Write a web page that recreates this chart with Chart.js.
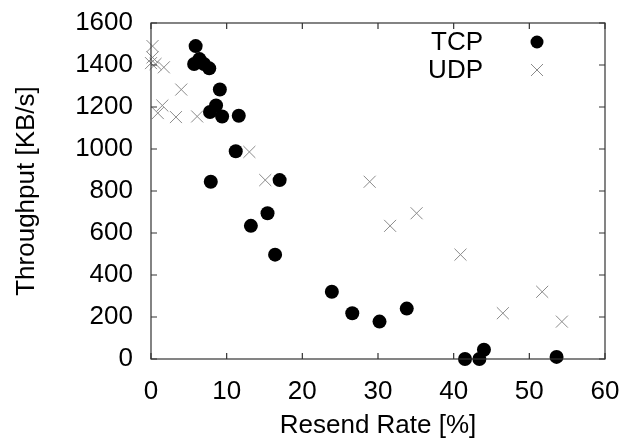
<!DOCTYPE html>
<html>
<head>
<meta charset="UTF-8">
<title>index.html</title>
<script src="https://cdn.jsdelivr.net/npm/chart.js"></script>
<style>
  html, body { margin: 0; padding: 0; background: #fff; }
  #wrap { width: 624px; height: 441px; }
</style>
</head>
<body>
<div id="wrap"><canvas id="scatterChart"></canvas></div>

<script>
    // resend rate [%] / throughput [KB/s]
    const tcpRate = [5.9, 5.7, 6.4, 7.0, 7.7, 9.1, 8.6, 7.8, 9.4, 11.6, 11.2, 7.9, 17.0, 15.4, 13.2, 16.4, 23.9, 26.6, 30.2, 33.8, 41.5, 43.4, 44.0, 53.6];
    const tcpThroughput = [1490, 1405, 1428, 1405, 1384, 1283, 1207, 1176, 1155, 1158, 989, 844, 852, 694, 634, 497, 320, 218, 178, 240, 0, 0, 44, 10];

    const udpRate = [0.2, 0.2, 0.0, 0.6, 1.7, 4.0, 1.5, 0.9, 3.3, 6.1, 13.0, 15.1, 28.9, 31.6, 35.1, 40.9, 46.5, 51.7, 54.3];
    const udpThroughput = [1490, 1436, 1409, 1405, 1389, 1283, 1207, 1171, 1152, 1155, 986, 852, 844, 634, 694, 497, 218, 320, 178];

    const xTicks = [0, 10, 20, 30, 40, 50, 60];
    const yTicks = [0, 200, 400, 600, 800, 1000, 1200, 1400, 1600];

    const FONT = '"Liberation Sans", Arial, sans-serif';
    const CROSS_COLOR = '#8a8a8a';

    function toPoints(xs, ys) {
        return xs.map(function (x, i) { return { x: x, y: ys[i] }; });
    }

    function noPadding(scale) {
        scale.paddingLeft = 0;
        scale.paddingRight = 0;
        scale.paddingTop = 0;
        scale.paddingBottom = 0;
    }

    // gnuplot-style frame with inward ticks on all four sides
    const framePlugin = {
        id: 'frame',
        afterDatasetsDraw: function (chart) {
            const ctx = chart.ctx;
            const a = chart.chartArea;
            const xs = chart.scales.x;
            const ys = chart.scales.y;
            const len = 6;
            ctx.save();
            ctx.strokeStyle = '#333';
            ctx.lineWidth = 1.2;
            ctx.strokeRect(a.left, a.top, a.right - a.left, a.bottom - a.top);
            ctx.beginPath();
            xTicks.forEach(function (v) {
                const px = xs.getPixelForValue(v);
                ctx.moveTo(px, a.bottom); ctx.lineTo(px, a.bottom - len);
                ctx.moveTo(px, a.top); ctx.lineTo(px, a.top + len);
            });
            yTicks.forEach(function (v) {
                const py = ys.getPixelForValue(v);
                ctx.moveTo(a.left, py); ctx.lineTo(a.left + len, py);
                ctx.moveTo(a.right, py); ctx.lineTo(a.right - len, py);
            });
            ctx.stroke();
            ctx.restore();
        }
    };

    // legend: label on the left, marker on the right
    const keyPlugin = {
        id: 'key',
        afterDraw: function (chart) {
            const ctx = chart.ctx;
            const textX = 483, markX = 537;
            const rows = [{ label: 'TCP', y: 42 }, { label: 'UDP', y: 70 }];
            ctx.save();
            ctx.font = '26px ' + FONT;
            ctx.fillStyle = '#000';
            ctx.textAlign = 'right';
            ctx.textBaseline = 'middle';
            rows.forEach(function (r) { ctx.fillText(r.label, textX, r.y + 1); });

            ctx.beginPath();
            ctx.arc(markX, rows[0].y, 6.5, 0, Math.PI * 2);
            ctx.fill();

            const d = 6;
            ctx.strokeStyle = CROSS_COLOR;
            ctx.lineWidth = 1;
            ctx.beginPath();
            ctx.moveTo(markX - d, rows[1].y - d); ctx.lineTo(markX + d, rows[1].y + d);
            ctx.moveTo(markX - d, rows[1].y + d); ctx.lineTo(markX + d, rows[1].y - d);
            ctx.stroke();
            ctx.restore();
        }
    };

    const config = {
        type: 'scatter',
        data: {
            datasets: [
                {
                    label: 'TCP',
                    data: toPoints(tcpRate, tcpThroughput),
                    pointStyle: 'circle',
                    pointRadius: 7,
                    pointBorderWidth: 0,
                    backgroundColor: '#000',
                    borderColor: '#000',
                    clip: false
                },
                {
                    label: 'UDP',
                    data: toPoints(udpRate, udpThroughput),
                    pointStyle: 'crossRot',
                    pointRadius: 8.5,
                    pointBorderWidth: 1,
                    backgroundColor: CROSS_COLOR,
                    borderColor: CROSS_COLOR,
                    clip: false
                }
            ]
        },
        options: {
            responsive: true,
            maintainAspectRatio: false,
            animation: false,
            layout: { padding: { top: 23, right: 19, left: 0, bottom: 0 } },
            plugins: {
                legend: { display: false },
                tooltip: { enabled: false }
            },
            scales: {
                x: {
                    type: 'linear',
                    min: 0,
                    max: 60,
                    border: { display: false },
                    grid: { display: false, drawTicks: false },
                    afterBuildTicks: function (scale) {
                        scale.ticks = xTicks.map(function (v) { return { value: v }; });
                    },
                    afterFit: function (scale) { scale.height = 82; noPadding(scale); },
                    ticks: {
                        padding: 17,
                        color: '#000',
                        maxRotation: 0,
                        font: { family: FONT, size: 26 },
                        callback: function (v) { return String(v); }
                    },
                    title: {
                        display: true,
                        text: 'Resend Rate [%]',
                        color: '#000',
                        padding: { top: 0, bottom: 0 },
                        font: { family: FONT, size: 26 }
                    }
                },
                y: {
                    type: 'linear',
                    min: 0,
                    max: 1600,
                    border: { display: false },
                    grid: { display: false, drawTicks: false },
                    afterBuildTicks: function (scale) {
                        scale.ticks = yTicks.map(function (v) { return { value: v }; });
                    },
                    afterFit: function (scale) { scale.width = 151; noPadding(scale); },
                    ticks: {
                        padding: 18,
                        color: '#000',
                        font: { family: FONT, size: 26 },
                        callback: function (v) { return String(v); }
                    },
                    title: {
                        display: true,
                        text: 'Throughput [KB/s]',
                        color: '#000',
                        padding: { top: 11, bottom: 0 },
                        font: { family: FONT, size: 26 }
                    }
                }
            }
        },
        plugins: [framePlugin, keyPlugin]
    };

    new Chart(document.getElementById('scatterChart'), config);
</script>
</body>
</html>
